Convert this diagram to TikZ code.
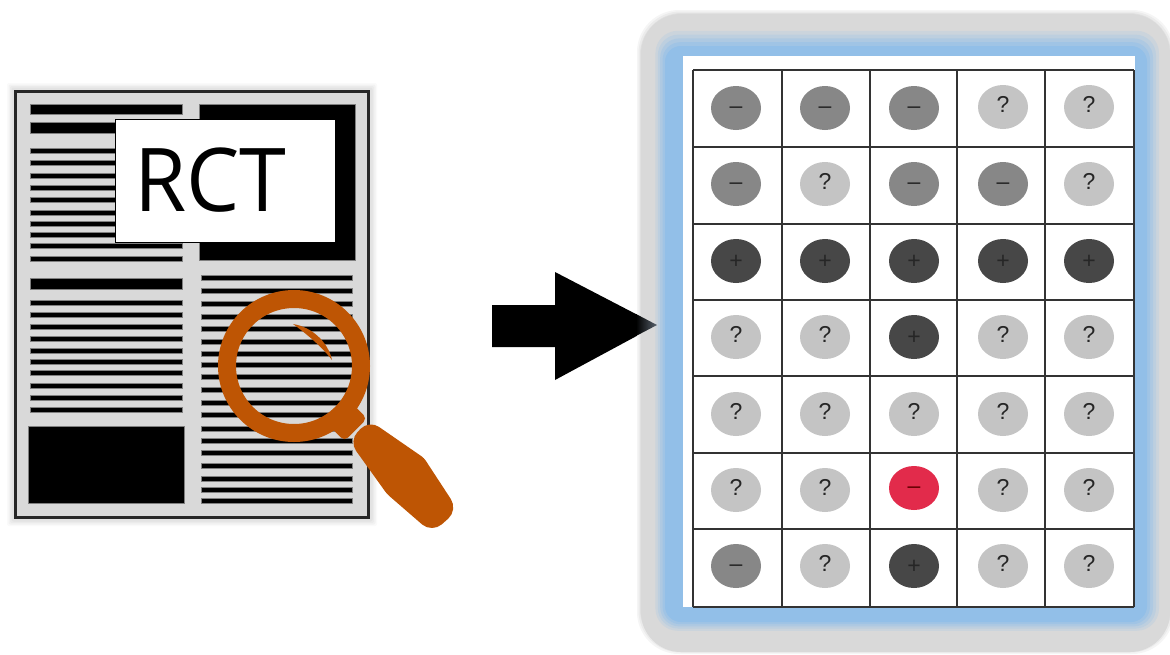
\documentclass[tikz,border=0pt]{standalone}
\usepackage{fontspec}
\setmainfont{Liberation Sans}
\newfontfamily\rctfont{Open Sans}
\usetikzlibrary{shapes.geometric}
\definecolor{docgray}{HTML}{D9D9D9}
\definecolor{framegray}{HTML}{D9D9D9}
\definecolor{frameblue}{HTML}{92BFE8}
\definecolor{lensorange}{HTML}{BE5504}
\definecolor{cellredc}{HTML}{E22B4B}
\definecolor{tipgray}{HTML}{59636E}

\begin{document}
\begin{tikzpicture}[
    x=1pt, y=-1pt,
    docbar/.style={fill=black, draw=black!50, line width=0.9pt},
    cell/.style={ellipse, minimum width=50pt, minimum height=44pt, inner sep=0pt, font=\fontsize{23}{23}\selectfont, text=black!85},
    cellneg/.style={cell, fill=black!47, text height=10pt, text depth=0pt},
    cellunk/.style={cell, fill=black!23, text height=10pt, text depth=0pt},
    cellpos/.style={cell, fill=black!72, text height=15pt, text depth=0pt},
    cellbad/.style={cell, fill=cellredc, text=red!40!black, text height=10pt, text depth=0pt},
    gridline/.style={draw=black!80, line width=1.2pt}
]
\useasboundingbox (0,0) rectangle (1170,654);

% arrow
\fill[black] (492,305) -- (555,305) -- (555,272) -- (657,325) -- (555,380) -- (555,347) -- (492,347) -- cycle;

% frame
\foreach \ins/\col in {0/black!4, 1.5/black!8, 3/black!12} {
    \fill[\col, rounded corners=42pt] (637+\ins,10+\ins) rectangle (1174-\ins,654-\ins);
}
\fill[framegray, rounded corners=40pt] (641,14) rectangle (1170,652);
\foreach \i in {0,1,2,3,4,5} {
    \pgfmathsetmacro{\pct}{\i*20}
    \pgfmathsetmacro{\rad}{24-1.6*\i}
    \fill[frameblue!\pct!framegray, rounded corners=\rad pt] (653+2.4*\i,27+3.8*\i) rectangle (1162-3*\i,633-2.2*\i);
}
\shade[left color=black, right color=tipgray] (636,314) -- (657,325) -- (636,336) -- cycle;
\fill[white] (683,56) rectangle (1135,607);

% table
\foreach \xpos in {693,782,870,957,1045,1134} {
    \draw[gridline] (\xpos,70) -- (\xpos,607);
}
\foreach \ypos in {70,147,224,300,376,453,529,607} {
    \draw[gridline] (693,\ypos) -- (1134,\ypos);
}

\node[cellneg] (c11) at (736,108) {–};
\node[cellneg] (c12) at (825,108) {–};
\node[cellneg] (c13) at (914,108) {–};
\node[cellunk] (c14) at (1003,107) {?};
\node[cellunk] (c15) at (1089,107) {?};

\node[cellneg] (c21) at (736,184) {–};
\node[cellunk] (c22) at (825,184) {?};
\node[cellneg] (c23) at (914,184) {–};
\node[cellneg] (c24) at (1003,184) {–};
\node[cellunk] (c25) at (1089,184) {?};

\node[cellpos] (c31) at (736,261) {+};
\node[cellpos] (c32) at (825,261) {+};
\node[cellpos] (c33) at (914,261) {+};
\node[cellpos] (c34) at (1003,261) {+};
\node[cellpos] (c35) at (1089,261) {+};

\node[cellunk] (c41) at (736,337) {?};
\node[cellunk] (c42) at (825,337) {?};
\node[cellpos] (c43) at (914,337) {+};
\node[cellunk] (c44) at (1003,337) {?};
\node[cellunk] (c45) at (1089,337) {?};

\node[cellunk] (c51) at (736,414) {?};
\node[cellunk] (c52) at (825,414) {?};
\node[cellunk] (c53) at (914,414) {?};
\node[cellunk] (c54) at (1003,414) {?};
\node[cellunk] (c55) at (1089,414) {?};

\node[cellunk] (c61) at (736,490) {?};
\node[cellunk] (c62) at (825,490) {?};
\node[cellbad] (c63) at (914,488) {–};
\node[cellunk] (c64) at (1003,490) {?};
\node[cellunk] (c65) at (1089,490) {?};

\node[cellneg] (c71) at (736,566) {–};
\node[cellunk] (c72) at (825,566) {?};
\node[cellpos] (c73) at (914,566) {+};
\node[cellunk] (c74) at (1003,566) {?};
\node[cellunk] (c75) at (1089,566) {?};

% paper
\foreach \ins/\col in {7/black!2, 5.5/black!5, 4/black!8, 2.5/black!11} {
    \fill[\col, rounded corners=2pt] (14-\ins,90-\ins) rectangle (370+\ins,519+\ins);
}
\draw[draw=black!85, fill=docgray, line width=3pt] (15.5,91.5) rectangle (368.5,517.5);

\draw[docbar] (30,104) rectangle (182,114);
\draw[docbar] (30,122) rectangle (182,133);
\draw[docbar] (30,278) rectangle (182,289);
\draw[docbar] (28,426) rectangle (184,503);
\draw[docbar] (199,104) rectangle (355,260);
\foreach \ypos in {151,163,176,188,200,213,224,235,246,259,303,315,327,339,351,362,373,386,398,410} {
    \draw[docbar] (30,\ypos-2.3) rectangle (182,\ypos+2.3);
}
\foreach \ypos in {278,291,304,317,329,342,354,365,377,390,403,415,429,441,453,466,479,490,501} {
    \draw[docbar] (201,\ypos-2.3) rectangle (352,\ypos+2.3);
}

\node[draw=black, line width=1pt, fill=white, minimum width=220pt, minimum height=123pt, inner sep=0pt] (rctbox) at (225,180.5) {};
\node[font=\rctfont\fontsize{88}{88}\selectfont, xscale=0.96, inner sep=0pt, anchor=west] (rcttext) at (134,180) {RCT};

% magnifier
\draw[lensorange, line width=18pt] (294,366) circle (67);
\fill[lensorange, rotate around={45:(348,422)}, rounded corners=5pt] (332,411) rectangle (364,433);
\fill[lensorange, rounded corners=12pt] (369,420) [rounded corners=3pt] -- (424,458) [rounded corners=13pt] -- (458,510) -- (432,533) [rounded corners=3pt] -- (387,494) [rounded corners=12pt] -- (349,441) -- cycle;
\fill[lensorange] (293,324) .. controls (312,327) and (328,342) .. (332,360) .. controls (322,347) and (308,335) .. (293,324) -- cycle;
\end{tikzpicture}
\end{document}
